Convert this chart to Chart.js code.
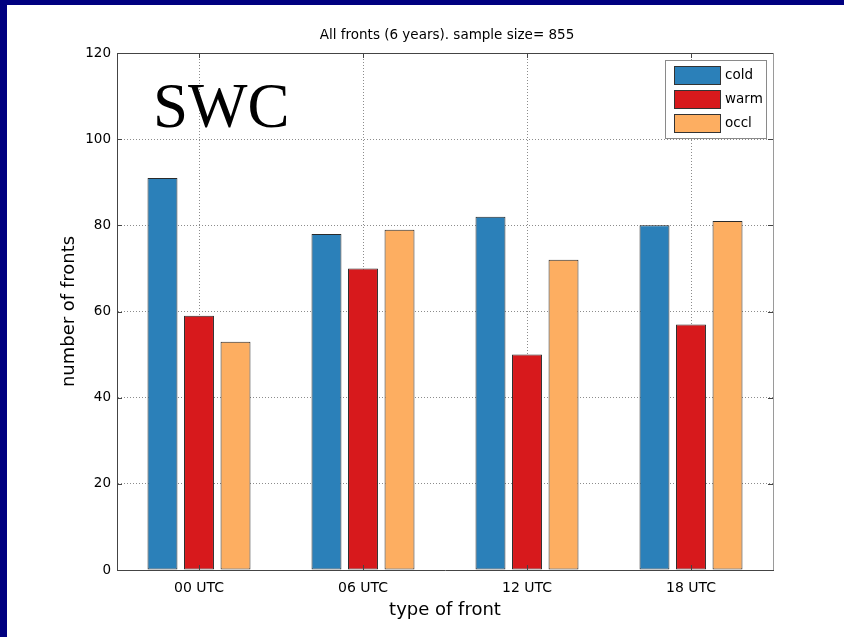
<!DOCTYPE html>
<html>
<head>
<meta charset="utf-8">
<script src="https://cdn.jsdelivr.net/npm/chart.js@4.4.1/dist/chart.umd.min.js"></script>
<style>
  html, body { margin: 0; padding: 0; background: #fff; }
  canvas { display: block; }
</style>
</head>
<body>
<canvas id="c" width="844" height="637"></canvas>
<script>
// Front counts per synoptic hour, region SWC
const categories = ['00 UTC', '06 UTC', '12 UTC', '18 UTC'];
const coldFronts = [91, 78, 82, 80];
const warmFronts = [59, 70, 50, 57];
const occludedFronts = [53, 79, 72, 81];
const seriesNames = ['cold', 'warm', 'occl'];
const seriesColors = ['#2b80b9', '#d7191c', '#fdae61'];
const yTicks = [0, 20, 40, 60, 80, 100, 120];

const titleText = 'All fronts (6 years). sample size= 855';
const regionText = 'SWC';
const xTitle = 'type of front';
const yTitle = 'number of fronts';

const SANS = '"DejaVu Sans", sans-serif';

const decor = {
  id: 'decor',
  beforeDraw(chart) {
    const ctx = chart.ctx;
    ctx.save();
    ctx.fillStyle = '#ffffff';
    ctx.fillRect(0, 0, chart.width, chart.height);
    ctx.fillStyle = '#000080';
    ctx.fillRect(0, 0, chart.width, 5);
    ctx.fillRect(0, 0, 7, chart.height);
    ctx.restore();
  },
  afterDatasetsDraw(chart) {
    const ctx = chart.ctx;
    const a = chart.chartArea;
    const xs = chart.scales.x, ys = chart.scales.y;
    ctx.save();
    // box: top and right edges
    ctx.lineWidth = 1;
    ctx.strokeStyle = '#444';
    ctx.beginPath();
    ctx.moveTo(a.left, Math.round(a.top) + 0.5);
    ctx.lineTo(a.right, Math.round(a.top) + 0.5);
    ctx.stroke();
    ctx.strokeStyle = '#9a9a9a';
    ctx.beginPath();
    ctx.moveTo(Math.round(a.right) + 0.5, a.top);
    ctx.lineTo(Math.round(a.right) + 0.5, a.bottom);
    ctx.stroke();
    // inward tick marks
    ctx.strokeStyle = '#444';
    ctx.beginPath();
    yTicks.forEach(v => {
      const y = Math.round(ys.getPixelForValue(v)) + 0.5;
      ctx.moveTo(a.left, y); ctx.lineTo(a.left + 5, y);
      ctx.moveTo(a.right, y); ctx.lineTo(a.right - 5, y);
    });
    categories.forEach((c, i) => {
      const x = Math.round(xs.getPixelForValue(i)) + 0.5;
      ctx.moveTo(x, a.bottom); ctx.lineTo(x, a.bottom - 5);
      ctx.moveTo(x, a.top); ctx.lineTo(x, a.top + 5);
    });
    ctx.stroke();
    ctx.restore();
  },
  afterDraw(chart) {
    const ctx = chart.ctx;
    const a = chart.chartArea;
    ctx.save();
    ctx.fillStyle = '#000';
    // title
    ctx.font = '13.5px ' + SANS;
    ctx.textAlign = 'center';
    ctx.textBaseline = 'middle';
    ctx.fillText(titleText, 447, 35);
    // axis titles
    ctx.font = '18px ' + SANS;
    ctx.fillText(xTitle, (a.left + a.right) / 2, 610);
    ctx.save();
    ctx.translate(69, (a.top + a.bottom) / 2);
    ctx.rotate(-Math.PI / 2);
    ctx.fillText(yTitle, 0, 0);
    ctx.restore();
    // region label
    ctx.font = '63px "Liberation Serif", "Times New Roman", serif';
    ctx.textAlign = 'left';
    ctx.textBaseline = 'alphabetic';
    ctx.fillText(regionText, 153, 127);
    // legend
    const lx = 665, ly = 60, lw = 101, lh = 78;
    ctx.fillStyle = '#fff';
    ctx.fillRect(lx, ly, lw, lh);
    ctx.strokeStyle = '#8a8a8a';
    ctx.lineWidth = 1;
    ctx.strokeRect(lx + 0.5, ly + 0.5, lw, lh);
    ctx.font = '13.5px ' + SANS;
    ctx.textBaseline = 'middle';
    chart.data.datasets.forEach((ds, i) => {
      const sy = 66 + i * 24;
      ctx.fillStyle = ds.backgroundColor;
      ctx.fillRect(674, sy, 46, 18);
      ctx.strokeStyle = '#333';
      ctx.strokeRect(674.5, sy + 0.5, 46, 18);
      ctx.fillStyle = '#000';
      ctx.fillText(ds.label, 725, sy + 9.5);
    });
    ctx.restore();
  }
};

const series = [coldFronts, warmFronts, occludedFronts];

new Chart(document.getElementById('c'), {
  type: 'bar',
  data: {
    labels: categories,
    datasets: series.map((vals, i) => ({
      label: seriesNames[i],
      data: vals,
      backgroundColor: seriesColors[i],
      borderColor: '#2a2a2a',
      borderWidth: 1,
      borderSkipped: false,
      categoryPercentage: 0.668,
      barPercentage: 0.82
    }))
  },
  options: {
    responsive: false,
    animation: false,
    devicePixelRatio: 1,
    layout: { padding: { left: 0, top: 53, right: 71, bottom: 0 } },
    plugins: {
      legend: { display: false },
      title: { display: false },
      tooltip: { enabled: false }
    },
    scales: {
      x: {
        offset: true,
        afterFit(s) { s.height = 67; },
        grid: {
          offset: false,
          drawTicks: false,
          color: '#8c8c8c',
          lineWidth: 1
        },
        border: { display: true, color: '#444', width: 1, dash: [1, 2] },
        ticks: {
          padding: 10,
          color: '#000',
          font: { family: SANS, size: 14 }
        }
      },
      y: {
        min: 0,
        max: 120,
        afterFit(s) { s.width = 117; },
        afterBuildTicks(s) { s.ticks = yTicks.map(v => ({ value: v })); },
        grid: {
          drawTicks: false,
          color: ctx => (ctx.tick && (ctx.tick.value === 0 || ctx.tick.value === 120)) ? 'rgba(0,0,0,0)' : '#8c8c8c',
          lineWidth: 1
        },
        border: { display: true, color: '#444', width: 1, dash: [1, 2] },
        ticks: {
          padding: 6,
          color: '#000',
          font: { family: SANS, size: 13.5 }
        }
      }
    }
  },
  plugins: [decor]
});
</script>
</body>
</html>
